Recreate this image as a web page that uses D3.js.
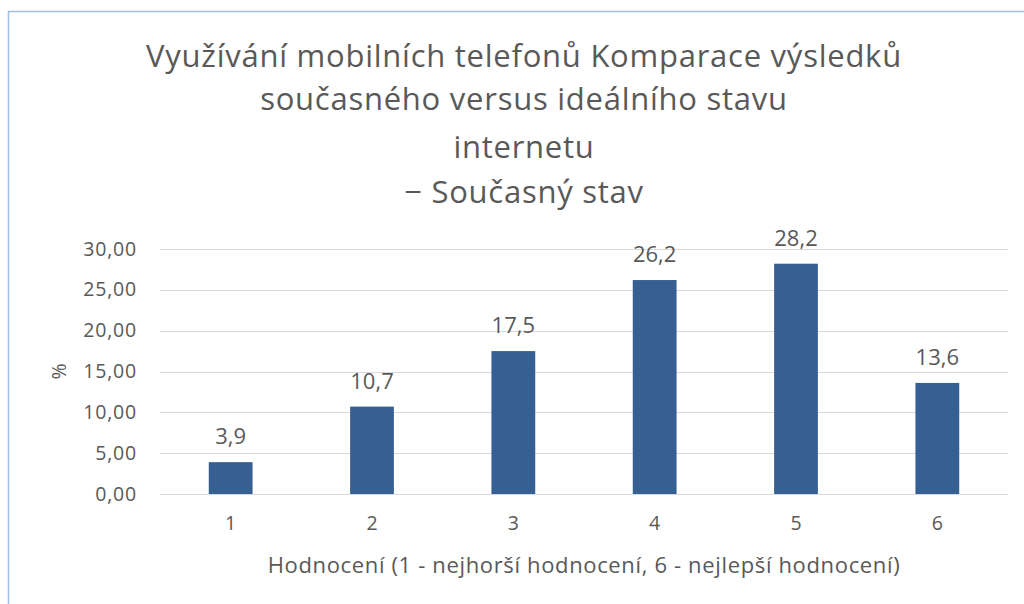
<!DOCTYPE html>
<html>
<head>
<meta charset="utf-8">
<script src="https://cdn.jsdelivr.net/npm/d3@7"></script>
<style>
  body { margin: 0; background: #fff; }
  text { font-family: "Open Sans", sans-serif; fill: #595959; }
</style>
</head>
<body>
<div id="app"></div>
<script>
// data
let categories = ["1", "2", "3", "4", "5", "6"]
let values = [3.9, 10.7, 17.5, 26.2, 28.2, 13.6]
let yTicks = [0, 5, 10, 15, 20, 25, 30]
let titleLines = [
    "Využívání mobilních telefonů Komparace výsledků",
    "současného versus ideálního stavu",
    "internetu",
    "− Současný stav"
]
let xTitle = "Hodnocení (1 - nejhorší hodnocení, 6 - nejlepší hodnocení)"
let yTitle = "%"

let width = 1024, height = 604
let svg = d3.select("#app").append("svg")
    .attr("width", width)
    .attr("height", height)

// chart frame (runs off right and bottom edge)
svg.append("rect")
    .attr("x", 8.5).attr("y", 11.5)
    .attr("width", 1100).attr("height", 700)
    .attr("fill", "none")
    .attr("stroke", "#a4c0e4")
    .attr("stroke-width", 1.5)

let plot = {left: 160, right: 1008, top: 249, bottom: 494}

let x = d3.scaleBand()
    .domain(categories)
    .range([plot.left, plot.right])
    .paddingInner(0.69)
    .paddingOuter(0.345)

let y = d3.scaleLinear()
    .domain([0, 30])
    .range([plot.bottom, plot.top])

let fmt = d => d.toFixed(2).replace(".", ",")

// gridlines
svg.append("g")
    .selectAll("line")
    .data(yTicks)
    .enter().append("line")
    .attr("x1", plot.left).attr("x2", plot.right)
    .attr("y1", d => Math.round(y(d)) + 0.5)
    .attr("y2", d => Math.round(y(d)) + 0.5)
    .attr("stroke", "#d9d9d9")
    .attr("stroke-width", 1.2)

// y axis labels
svg.append("g")
    .selectAll("text")
    .data(yTicks)
    .enter().append("text")
    .attr("x", 137)
    .attr("y", d => y(d) + 6.5)
    .attr("text-anchor", "end")
    .attr("font-size", 19.5)
    .attr("letter-spacing", 0.8)
    .text(fmt)

// bars
svg.append("g")
    .selectAll("rect")
    .data(values)
    .enter().append("rect")
    .attr("x", (d, i) => x(categories[i]))
    .attr("width", x.bandwidth())
    .attr("y", d => y(d))
    .attr("height", d => y(0) - y(d))
    .attr("fill", "#376092")

// data labels
svg.append("g")
    .selectAll("text")
    .data(values)
    .enter().append("text")
    .attr("x", (d, i) => x(categories[i]) + x.bandwidth() / 2)
    .attr("y", d => y(d) - 18)
    .attr("text-anchor", "middle")
    .attr("font-size", 22)
    .text(d => d.toFixed(1).replace(".", ","))

// category labels
svg.append("g")
    .selectAll("text")
    .data(categories)
    .enter().append("text")
    .attr("x", d => x(d) + x.bandwidth() / 2)
    .attr("y", 530)
    .attr("text-anchor", "middle")
    .attr("font-size", 19.5)
    .text(d => d)

// axis titles
svg.append("text")
    .attr("x", (plot.left + plot.right) / 2)
    .attr("y", 573)
    .attr("text-anchor", "middle")
    .attr("font-size", 22)
    .attr("letter-spacing", 0.65)
    .text(xTitle)

svg.append("text")
    .attr("transform", "translate(66," + ((plot.top + plot.bottom) / 2) + ") rotate(-90)")
    .attr("text-anchor", "middle")
    .attr("font-size", 19.5)
    .text(yTitle)

// title
let titleY = [67, 110, 158, 203]
svg.append("g")
    .selectAll("text")
    .data(titleLines)
    .enter().append("text")
    .attr("x", 524)
    .attr("y", (d, i) => titleY[i])
    .attr("text-anchor", "middle")
    .attr("font-size", 31)
    .attr("letter-spacing", 0.75)
    .text(d => d)
</script>
</body>
</html>
